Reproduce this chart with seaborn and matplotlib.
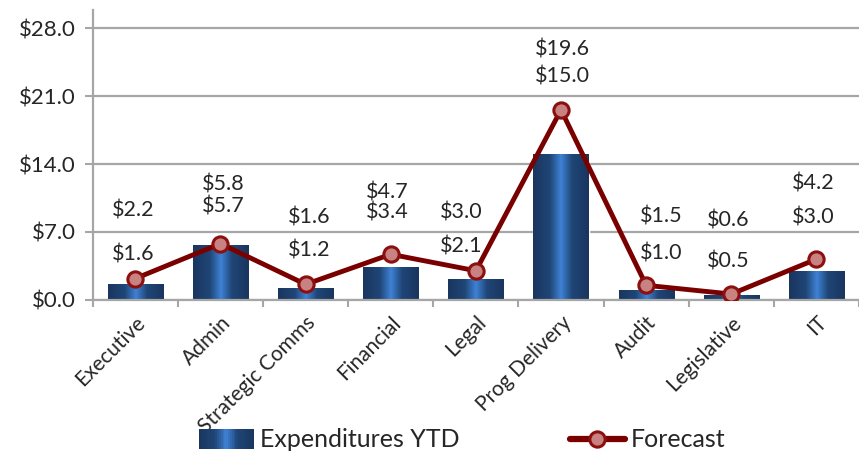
import numpy as np
import pandas as pd
import seaborn as sns
import matplotlib.pyplot as plt
from matplotlib.colors import LinearSegmentedColormap
from matplotlib.legend_handler import HandlerBase
from matplotlib.patches import Rectangle
from matplotlib.lines import Line2D

# data ($ millions)
categories = ['Executive', 'Admin', 'Strategic Comms', 'Financial', 'Legal',
              'Prog Delivery', 'Audit', 'Legislative', 'IT']
expenditures_ytd = [1.6, 5.7, 1.2, 3.4, 2.1, 15.0, 1.0, 0.5, 3.0]
forecast = [2.2, 5.8, 1.6, 4.7, 3.0, 19.6, 1.5, 0.6, 4.2]
yticks = [0, 7, 14, 21, 28]

df = pd.DataFrame({'category': categories, 'ytd': expenditures_ytd, 'forecast': forecast})

sns.set_style('white')
plt.rcParams['font.family'] = ['Lato', 'DejaVu Sans']

grid_grey = '#a6a6a6'
text_col = '#262626'
line_red = '#7a0000'
bar_cmap = LinearSegmentedColormap.from_list(
    'bar', [(0, '#1a365f'), (0.3, '#1f4677'), (0.5, '#3f82d6'), (0.7, '#1f4677'), (1, '#1a365f')])

fig = plt.figure(figsize=(8.59, 4.55), dpi=100)
ax = fig.add_axes([0.108, 0.341, 0.896, 0.637])

sns.barplot(data=df, x='category', y='ytd', color='#1f4677', width=0.65, ax=ax, zorder=2)
grad = np.linspace(0, 1, 64).reshape(1, -1)
for p in ax.patches:
    x0, w, h = p.get_x(), p.get_width(), p.get_height()
    im = ax.imshow(grad, cmap=bar_cmap, aspect='auto', extent=(x0, x0 + w, 0, h), zorder=2.1)
    im.set_clip_path(p)

sns.pointplot(data=df, x='category', y='forecast', color=line_red, markers='o', errorbar=None,
              markersize=11, linewidth=3.5, ax=ax, zorder=4)
for ln in ax.lines:
    ln.set_markerfacecolor('#c98282')
    ln.set_markeredgecolor('#8c1010')
    ln.set_markeredgewidth(2.2)

# data labels (lift in pixels above the value, sideways nudge in pixels)
fc_lift = [68, 59, 67, 62, 58, 60, 69, 74, 76]
ytd_lift = [30, 38, 38, 54, 33, 78, 37, 33, 53]
label_dx = [-2, 3, 4, -3, -15, 1, 15, -3, -3]
px = 0.72
for i in range(len(categories)):
    ax.annotate(f'${forecast[i]:.1f}', xy=(i, forecast[i]), xytext=(label_dx[i] * px, fc_lift[i] * px),
                textcoords='offset points', ha='center', va='center', fontsize=15.5, color=text_col, zorder=5)
    ax.annotate(f'${expenditures_ytd[i]:.1f}', xy=(i, expenditures_ytd[i]),
                xytext=(label_dx[i] * px, ytd_lift[i] * px),
                textcoords='offset points', ha='center', va='center', fontsize=15.5, color=text_col, zorder=5)

ax.set_ylim(0, 29.9)
ax.set_xlim(-0.5, len(categories) - 0.46)
ax.set_yticks(yticks)
ax.set_yticklabels([f'${v:.1f}' for v in yticks], fontsize=16, color=text_col)
ax.yaxis.grid(True, color=grid_grey, linewidth=1.6, zorder=0)
ax.set_axisbelow(True)
ax.tick_params(axis='y', length=6, width=1.5, color=grid_grey, pad=6, left=True)

ax.set_xticks(np.arange(len(categories)))
ax.set_xticklabels(categories, rotation=45, ha='right', rotation_mode='anchor', fontsize=15, color=text_col)
ax.set_xticks(np.arange(-0.5, len(categories)), minor=True)
ax.tick_params(axis='x', which='major', length=0, pad=9)
ax.tick_params(axis='x', which='minor', length=5, width=1.5, color=grid_grey, bottom=True)
ax.set_xlabel('')
ax.set_ylabel('')

for s in ['top', 'right']:
    ax.spines[s].set_visible(False)
for s in ['left', 'bottom']:
    ax.spines[s].set_color(grid_grey)
    ax.spines[s].set_linewidth(1.6)


class GradientHandler(HandlerBase):
    def create_artists(self, legend, orig_handle, xdescent, ydescent, width, height, fontsize, trans):
        n = 30
        arts = []
        for k in range(n):
            r = Rectangle((-xdescent + k * width / n, -ydescent - 1), width / n + 0.3, height + 2,
                          facecolor=bar_cmap((k + 0.5) / n), edgecolor='none', transform=trans)
            arts.append(r)
        return arts


bar_handle = Rectangle((0, 0), 1, 1)
line_handle = Line2D([], [], color=line_red, linewidth=4.5, marker='o', markersize=11,
                     markerfacecolor='#c98282', markeredgecolor='#8c1010', markeredgewidth=2.2)
fig.legend([bar_handle, line_handle], ['Expenditures YTD', 'Forecast'],
           handler_map={Rectangle: GradientHandler()}, loc='center', bbox_to_anchor=(0.538, 0.033),
           ncol=2, frameon=False, fontsize=18, handlelength=2.2, handletextpad=0.25, columnspacing=4.4)

fig.savefig('out.png', dpi=100)
